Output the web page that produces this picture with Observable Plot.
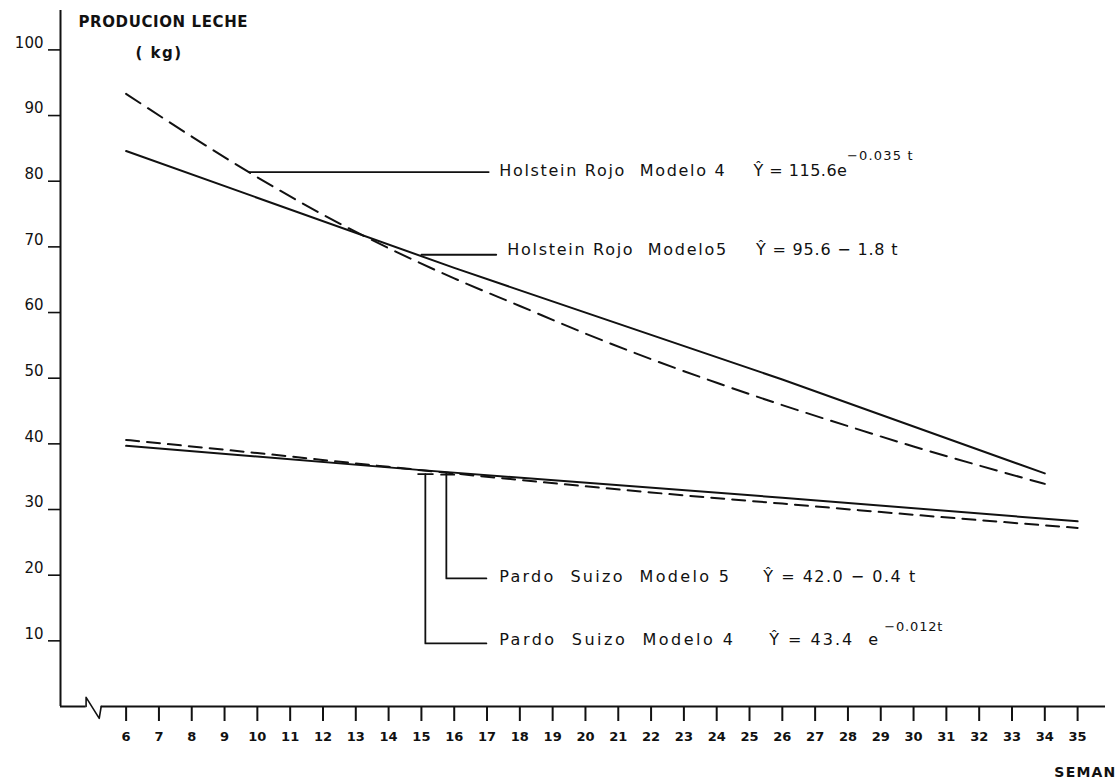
<!DOCTYPE html>
<html>
<head>
<meta charset="utf-8">
<script src="https://cdn.jsdelivr.net/npm/d3@7"></script>
<script src="https://cdn.jsdelivr.net/npm/@observablehq/plot@0.6"></script>
<style>
  html, body { margin: 0; padding: 0; background: #fff; }
  svg { display: block; }
  svg text { white-space: pre; }
</style>
</head>
<body>
<div id="chart"></div>
<script>
// ---- data ----
const weekTicks = [6,7,8,9,10,11,12,13,14,15,16,17,18,19,20,21,22,23,24,25,26,27,28,29,30,31,32,33,34,35];
const yTicks = [10,20,30,40,50,60,70,80,90,100];

// Holstein Rojo, Modelo 4 (dashed)
const holM4Weeks = [6,8,10,12,14,16,18,20,22,24,26,28,30,32,34];
const holM4Vals  = [93.3,86.8,80.6,74.9,69.8,65.2,61.0,56.8,52.9,49.3,45.9,42.7,39.6,36.7,33.9];
// Holstein Rojo, Modelo 5 (solid)
const holM5Weeks = [6,16,26,34];
const holM5Vals  = [84.6,66.8,49.8,35.5];
// Pardo Suizo, Modelo 5 (solid)
const parM5Weeks = [6,15,26,35];
const parM5Vals  = [39.7,36.0,31.8,28.2];
// Pardo Suizo, Modelo 4 (dashed)
const parM4Weeks = [6,10,14,18,22,26,30,35];
const parM4Vals  = [40.6,38.6,36.5,34.5,32.6,30.9,29.2,27.2];

// annotation texts
const labelTexts = ["Holstein Rojo  Modelo 4", "Holstein Rojo  Modelo5", "Pardo  Suizo  Modelo 5", "Pardo  Suizo  Modelo 4"];
const formulaTexts = ["Ŷ = 115.6e", "Ŷ = 95.6 − 1.8 t", "Ŷ = 42.0 − 0.4 t", "Ŷ = 43.4  e"];
const supTexts = ["−0.035 t", "", "", "−0.012t"];
// annotation anchors (in week / kg units)
const labelX = [17.37, 17.62, 17.37, 17.37];
const labelY = [81.6, 69.6, 19.8, 10.1];
const formulaX = [25.12, 25.2, 25.42, 25.6];
const supX = [27.97, 0, 0, 29.11];
const supY = [83.9, 0, 0, 12.1];
// leader polylines (week, kg)
const leaderA = [[9.75,81.4],[17.05,81.4]];
const leaderB = [[15.0,68.8],[17.28,68.8]];
const leaderC = [[15.76,35.5],[15.76,19.5],[16.98,19.5]];
const leaderD = [[15.12,35.4],[15.12,9.6],[16.98,9.6]];
const leaderCapC = [[15.6,35.3],[16.0,35.3]];
const leaderCapD = [[14.9,35.4],[15.35,35.4]];
// axis break zig-zag
const breakZig = [[4.78,0],[4.78,1.4],[5.18,-1.8],[5.24,0]];

// letter spacing per text (hand-lettered look)
const spacing = new Map([
  ["Holstein Rojo  Modelo 4", 1.7], ["Holstein Rojo  Modelo5", 1.7],
  ["Pardo  Suizo  Modelo 5", 2.3], ["Pardo  Suizo  Modelo 4", 2.5],
  ["Ŷ = 115.6e", 0.5], ["Ŷ = 95.6 − 1.8 t", 0.8], ["Ŷ = 42.0 − 0.4 t", 1.5], ["Ŷ = 43.4  e", 2.0],
  ["−0.035 t", 1.2], ["−0.012t", 0.8],
  ["PRODUCION LECHE", 0.6], ["( kg)", 1.5], ["SEMAN", 1.2]
]);

// ---- build tables ----
const toRows = (ws, vs) => ws.map((w, i) => ({w, v: vs[i]}));
const holM4 = toRows(holM4Weeks, holM4Vals);
const holM5 = toRows(holM5Weeks, holM5Vals);
const parM5 = toRows(parM5Weeks, parM5Vals);
const parM4 = toRows(parM4Weeks, parM4Vals);
const labels = labelTexts.map((t, i) => ({t, x: labelX[i], y: labelY[i]}));
const formulas = formulaTexts.map((t, i) => ({t, x: formulaX[i], y: labelY[i]}));
const sups = supTexts.map((t, i) => ({t, x: supX[i], y: supY[i]})).filter(d => d.t);
const pts = a => a.map(([w, v]) => ({w, v}));

const ink = "#111";
const font = "DejaVu Sans";

const chart = Plot.plot({
  width: 1118,
  height: 782,
  marginLeft: 60,
  marginRight: 13,
  marginTop: 10,
  marginBottom: 76,
  x: {domain: [4, 35.85]},
  y: {domain: [0, 106]},
  style: {fontFamily: font, background: "white", color: ink, overflow: "visible"},
  marks: [
    // y axis line
    Plot.ruleX([4], {y1: 0, y2: 106, stroke: ink, strokeWidth: 2}),
    // x axis line with break
    Plot.ruleY([0], {x1: 4, x2: 4.78, stroke: ink, strokeWidth: 2}),
    Plot.ruleY([0], {x1: 5.24, x2: 35.85, stroke: ink, strokeWidth: 2}),
    Plot.line(pts(breakZig), {x: "w", y: "v", stroke: ink, strokeWidth: 1.6}),
    // y ticks and labels
    Plot.axisY(yTicks, {tickSize: 12, tickFormat: () => "", label: null, strokeWidth: 1.6, stroke: ink}),
    Plot.text(yTicks, {y: d => d, text: d => String(d), frameAnchor: "left", textAnchor: "end", dx: -17, dy: -7, fontSize: 15, fill: ink}),
    // x ticks and labels
    Plot.axisX(weekTicks, {tickSize: 15, tickPadding: 10, fontSize: 13, fontWeight: "bold", label: null, strokeWidth: 2, stroke: ink, fill: ink}),
    // titles
    Plot.text(["PRODUCION LECHE"], {frameAnchor: "top-left", dx: 18, dy: 6, textAnchor: "start", fontSize: 15, fontWeight: "bold", fill: ink}),
    Plot.text(["( kg)"], {frameAnchor: "top-left", dx: 75, dy: 37, textAnchor: "start", fontSize: 15, fontWeight: "bold", fill: ink}),
    Plot.text(["SEMAN"], {frameAnchor: "bottom-right", dx: 11, dy: 70, textAnchor: "end", fontSize: 14, fontWeight: "bold", fill: ink}),
    // curves
    Plot.line(holM5, {x: "w", y: "v", stroke: ink, strokeWidth: 2}),
    Plot.line(holM4, {x: "w", y: "v", stroke: ink, strokeWidth: 2, strokeDasharray: "17,9", curve: "monotone-x"}),
    Plot.line(parM5, {x: "w", y: "v", stroke: ink, strokeWidth: 2}),
    Plot.line(parM4, {x: "w", y: "v", stroke: ink, strokeWidth: 2, strokeDasharray: "13,8", curve: "monotone-x"}),
    // leaders
    Plot.line(pts(leaderA), {x: "w", y: "v", stroke: ink, strokeWidth: 1.8}),
    Plot.line(pts(leaderB), {x: "w", y: "v", stroke: ink, strokeWidth: 1.8}),
    Plot.line(pts(leaderC), {x: "w", y: "v", stroke: ink, strokeWidth: 1.8}),
    Plot.line(pts(leaderD), {x: "w", y: "v", stroke: ink, strokeWidth: 1.8}),
    Plot.line(pts(leaderCapC), {x: "w", y: "v", stroke: ink, strokeWidth: 1.8}),
    Plot.line(pts(leaderCapD), {x: "w", y: "v", stroke: ink, strokeWidth: 1.8}),
    // annotation texts
    Plot.text(labels, {x: "x", y: "y", text: "t", textAnchor: "start", fontSize: 16, fill: ink}),
    Plot.text(formulas, {x: "x", y: "y", text: "t", textAnchor: "start", fontSize: 16, fill: ink}),
    Plot.text(sups, {x: "x", y: "y", text: "t", textAnchor: "start", fontSize: 13, fill: ink})
  ]
});
d3.select(chart).selectAll("text").each(function () {
  const s = spacing.get(this.textContent);
  if (s != null) this.setAttribute("letter-spacing", s);
});
document.getElementById("chart").appendChild(chart);
</script>
</body>
</html>
